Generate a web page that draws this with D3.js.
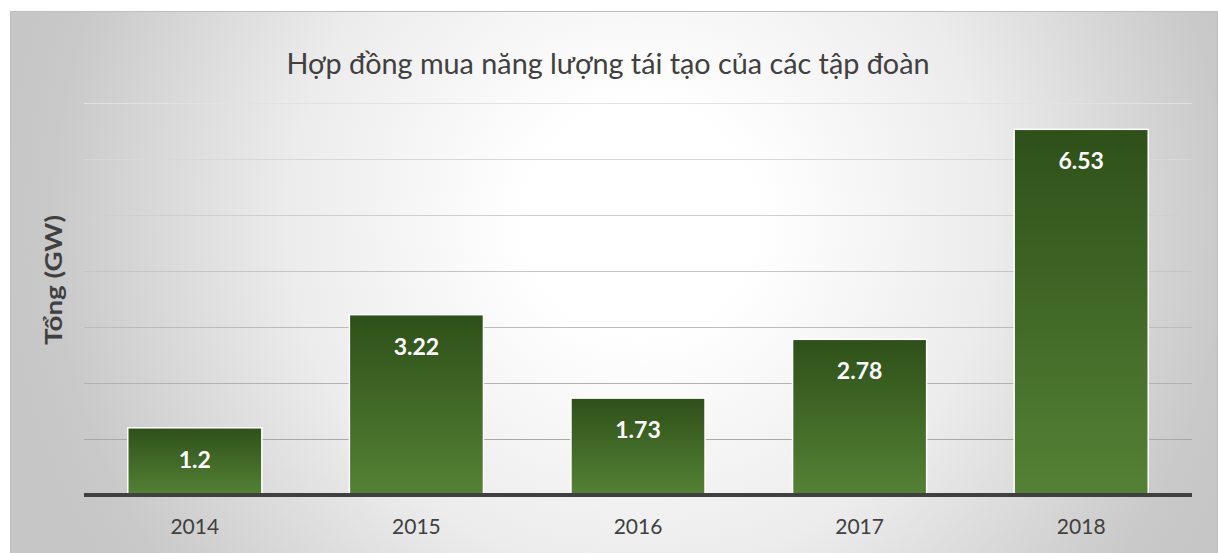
<!DOCTYPE html>
<html>
<head>
<meta charset="utf-8">
<script src="https://cdn.jsdelivr.net/npm/d3@7"></script>
<style>
  html, body { margin: 0; padding: 0; background: #ffffff; }
  svg { display: block; }
</style>
</head>
<body>
<svg id="chart" width="1218" height="553"></svg>
<script>
// ---- data ----
const categories = ["2014", "2015", "2016", "2017", "2018"];
const values = [1.2, 3.22, 1.73, 2.78, 6.53];
const valueLabels = ["1.2", "3.22", "1.73", "2.78", "6.53"];
const yTicks = [1, 2, 3, 4, 5, 6, 7];
const title = "Hợp đồng mua năng lượng tái tạo của các tập đoàn";
const yTitle = "Tổng (GW)";

// ---- layout ----
const W = 1218, H = 553;
const plot = { left: 84, right: 1192, top: 103, bottom: 495 };
const font = "Lato, 'Open Sans', sans-serif";

const svg = d3.select("#chart");
const defs = svg.append("defs");

const bg = defs.append("radialGradient")
  .attr("id", "bg").attr("gradientUnits", "userSpaceOnUse")
  .attr("cx", 640).attr("cy", 220).attr("r", 640);
bg.append("stop").attr("offset", 0.18).attr("stop-color", "#ffffff");
bg.append("stop").attr("offset", 0.55).attr("stop-color", "#ececec");
bg.append("stop").attr("offset", 0.92).attr("stop-color", "#c9c9c9");
bg.append("stop").attr("offset", 1).attr("stop-color", "#c6c6c6");

const barGrad = defs.append("linearGradient")
  .attr("id", "bar").attr("x1", 0).attr("y1", 0).attr("x2", 0).attr("y2", 1);
barGrad.append("stop").attr("offset", 0).attr("stop-color", "#2e5019");
barGrad.append("stop").attr("offset", 1).attr("stop-color", "#548235");

// panel
svg.append("rect")
  .attr("x", 10.5).attr("y", 11.5).attr("width", 1207).attr("height", 545)
  .attr("fill", "url(#bg)").attr("stroke", "#bdbdbd").attr("stroke-width", 1);

const x = d3.scaleBand().domain(categories).range([plot.left, plot.right])
  .paddingInner(0.395).paddingOuter(0.1975);
const y = d3.scaleLinear().domain([0, 7]).range([plot.bottom, plot.top]);

// gridlines (lighter toward the top)
const gridColor = d3.scaleLinear().domain([1, 7]).range(["#a8a8a8", "#e2e2e2"]);
const yAxis = d3.axisLeft(y).tickValues(yTicks).tickSize(-(plot.right - plot.left)).tickFormat("");
const gy = svg.append("g").attr("transform", `translate(${plot.left},0)`).call(yAxis);
gy.select(".domain").remove();
gy.selectAll(".tick line")
  .attr("stroke", d => gridColor(d)).attr("stroke-width", 1.2);

// bars
svg.append("g").selectAll("rect").data(values).join("rect")
  .attr("x", (d, i) => x(categories[i]))
  .attr("y", d => y(d))
  .attr("width", x.bandwidth())
  .attr("height", d => y(0) - y(d))
  .attr("fill", "url(#bar)")
  .attr("stroke", "#ffffff").attr("stroke-width", 1.5);

// value labels
svg.append("g").selectAll("text").data(values).join("text")
  .attr("x", (d, i) => x(categories[i]) + x.bandwidth() / 2)
  .attr("y", d => y(d) + 40)
  .attr("text-anchor", "middle")
  .attr("font-family", font).attr("font-weight", 700).attr("font-size", 23)
  .attr("fill", "#ffffff")
  .text((d, i) => valueLabels[i]);

// x axis
const xAxis = d3.axisBottom(x).tickSize(0).tickPadding(24);
const gx = svg.append("g").attr("transform", `translate(0,${plot.bottom})`).call(xAxis);
gx.select(".domain").attr("stroke", "#404040").attr("stroke-width", 4)
  .attr("d", `M${plot.left},0H${plot.right}`);
gx.selectAll(".tick text")
  .attr("font-family", font).attr("font-size", 21).attr("fill", "#404040");

// title
svg.append("text")
  .attr("x", 608).attr("y", 74)
  .attr("text-anchor", "middle")
  .attr("font-family", font).attr("font-size", 29).attr("fill", "#404040")
  .attr("textLength", 643).attr("lengthAdjust", "spacingAndGlyphs")
  .text(title);

// y title
svg.append("text")
  .attr("transform", "translate(62,280) rotate(-90)")
  .attr("text-anchor", "middle")
  .attr("font-family", font).attr("font-weight", 700).attr("font-size", 23).attr("fill", "#404040")
  .attr("textLength", 130).attr("lengthAdjust", "spacingAndGlyphs")
  .text(yTitle);
</script>
</body>
</html>
